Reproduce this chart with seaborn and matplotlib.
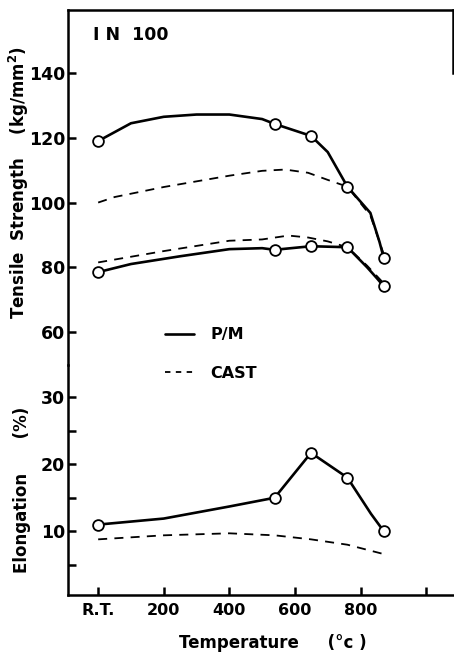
import matplotlib
matplotlib.use("Agg")
import matplotlib.pyplot as plt
import seaborn as sns
from matplotlib.lines import Line2D

# ---------------- data ----------------
test_temps = [0, 538, 649, 760, 871]
pm_upper_pts = [119.0, 124.3, 120.6, 104.9, 82.8]
pm_lower_pts = [78.5, 85.3, 86.5, 86.2, 74.1]
pm_elong_pts = [11.0, 15.0, 21.7, 18.0, 10.0]

# traced P/M curves
pm_upper_t = [0, 100, 200, 300, 400, 500, 538, 649, 700, 760, 830, 858, 871]
pm_upper_v = [119.0, 124.5, 126.5, 127.2, 127.2, 125.8, 124.3, 120.6, 115.6, 104.9, 96.8, 87.8, 82.8]
pm_lower_t = [0, 100, 250, 400, 500, 538, 649, 760, 820, 850, 871]
pm_lower_v = [78.5, 81.0, 83.4, 85.6, 85.9, 85.4, 86.5, 86.2, 80.0, 76.6, 74.1]
pm_elong_t = [0, 200, 400, 538, 649, 760, 800, 832, 871]
pm_elong_v = [11.0, 11.9, 13.7, 15.0, 21.7, 18.0, 15.0, 12.6, 10.0]

# traced CAST curves
cast_upper_t = [0, 50, 200, 400, 500, 570, 640, 700, 760, 830, 871]
cast_upper_v = [100.0, 101.7, 104.8, 108.3, 109.8, 110.2, 109.2, 107.0, 104.9, 96.0, 84.0]
cast_lower_t = [0, 200, 400, 500, 580, 640, 700, 760, 820, 871]
cast_lower_v = [81.5, 85.0, 88.2, 88.6, 89.8, 89.2, 88.0, 86.2, 80.5, 75.0]
cast_elong_t = [0, 200, 400, 538, 649, 760, 871]
cast_elong_v = [8.8, 9.4, 9.7, 9.4, 8.8, 8.0, 6.6]

x_ticks = [0, 200, 400, 600, 800, 1000]
x_tick_labels = ["R.T.", "200", "400", "600", "800", ""]
top_ticks = [60, 80, 100, 120, 140]
bot_ticks = [5, 10, 15, 20, 25, 30]
bot_tick_labels = ["", "10", "", "20", "", "30"]

# ---------------- style ----------------
sns.set_style("ticks")
plt.rcParams["font.family"] = ["DejaVu Sans"]
plt.rcParams["font.weight"] = "bold"
for key in ("text.color", "axes.labelcolor", "xtick.color", "ytick.color", "axes.edgecolor"):
    plt.rcParams[key] = "black"
FS = 12.5

W, H = 454, 653
fig = plt.figure(figsize=(W / 100, H / 100), dpi=100)

left_px, right_px = 68, 453
top_px, mid_px, bot_px = 10, 365, 595
def fx(px):
    return px / W
def fy(py):
    return 1 - py / H

ax_t = fig.add_axes([fx(left_px), fy(mid_px), fx(right_px) - fx(left_px), fy(top_px) - fy(mid_px)])
ax_b = fig.add_axes([fx(left_px), fy(bot_px), fx(right_px) - fx(left_px), fy(mid_px) - fy(bot_px)], sharex=ax_t)
for ax in (ax_t, ax_b):
    ax.patch.set_visible(False)

solid_kw = dict(color="black", linewidth=1.9, estimator=None, sort=False)
dash_kw = dict(color="black", linewidth=1.3, estimator=None, sort=False, linestyle=(0, (5, 4)))
mk_kw = dict(marker="o", s=60, facecolor="white", edgecolor="black", linewidth=1.3, zorder=5, legend=False)

# top panel: tensile strength
sns.lineplot(x=pm_upper_t, y=pm_upper_v, ax=ax_t, **solid_kw)
sns.lineplot(x=pm_lower_t, y=pm_lower_v, ax=ax_t, **solid_kw)
sns.lineplot(x=cast_upper_t, y=cast_upper_v, ax=ax_t, **dash_kw)
sns.lineplot(x=cast_lower_t, y=cast_lower_v, ax=ax_t, **dash_kw)
sns.scatterplot(x=test_temps, y=pm_upper_pts, ax=ax_t, **mk_kw)
sns.scatterplot(x=test_temps, y=pm_lower_pts, ax=ax_t, **mk_kw)

# bottom panel: elongation
sns.lineplot(x=pm_elong_t, y=pm_elong_v, ax=ax_b, **solid_kw)
sns.lineplot(x=cast_elong_t, y=cast_elong_v, ax=ax_b, **dash_kw)
sns.scatterplot(x=test_temps, y=pm_elong_pts, ax=ax_b, **mk_kw)

xmin, xmax = -92, 1082
ax_t.set_xlim(xmin, xmax)
ax_t.set_ylim(49.8, 159.5)
ax_b.set_ylim(0.5, 34.8)

# spines
for ax in (ax_t, ax_b):
    for s in ax.spines.values():
        s.set_linewidth(1.8)
        s.set_color("black")
ax_t.spines["bottom"].set_visible(False)
ax_t.spines["right"].set_bounds(140, 159.5)
ax_b.spines["top"].set_visible(False)
ax_b.spines["right"].set_visible(False)

# ticks
ax_t.set_yticks(top_ticks)
ax_t.set_yticklabels([str(t) for t in top_ticks], fontsize=FS, fontweight="bold")
ax_t.tick_params(axis="y", direction="in", length=6, width=1.8, pad=2, right=False)
ax_t.tick_params(axis="x", bottom=False, labelbottom=False)

ax_b.set_yticks(bot_ticks)
ax_b.set_yticklabels(bot_tick_labels, fontsize=FS, fontweight="bold")
ax_b.tick_params(axis="y", direction="in", length=6, width=1.8, pad=2, right=False)
ax_b.set_xticks(x_ticks)
ax_b.set_xticklabels(x_tick_labels, fontsize=FS - 1, fontweight="bold")
ax_b.tick_params(axis="x", direction="in", length=6, width=1.8, pad=6, top=False)

# labels
span = right_px - left_px
LFS = 12
ax_t.set_ylabel("Tensile  Strength    (kg/mm$^\\mathbf{2}$)", fontsize=LFS, fontweight="bold")
ax_t.yaxis.set_label_coords((31 - left_px) / span, (mid_px - 183) / (mid_px - top_px))
ax_b.set_ylabel("Elongation      (%)", fontsize=LFS, fontweight="bold")
ax_b.yaxis.set_label_coords((31 - left_px) / span, (bot_px - 490) / (bot_px - mid_px))
ax_b.set_xlabel("Temperature     (°c )", fontsize=LFS, fontweight="bold")
ax_b.xaxis.set_label_coords((273 - left_px) / span, (bot_px - 634) / (bot_px - mid_px))

ax_t.text((93 - left_px) / span, (mid_px - 35) / (mid_px - top_px), "I N  100",
          transform=ax_t.transAxes, fontsize=FS, fontweight="bold", ha="left", va="center")

# legend
handles = [Line2D([], [], color="black", lw=1.9),
           Line2D([], [], color="black", lw=1.3, linestyle=(0, (3, 3)))]
leg = fig.legend(handles, ["P/M", "CAST"], loc="upper left",
                 bbox_to_anchor=(fx(151), fy(313)), bbox_transform=fig.transFigure,
                 frameon=False, handlelength=1.8, handletextpad=1.0, labelspacing=1.45,
                 prop=dict(size=FS - 1, weight="bold"))

fig.savefig("out.png", dpi=100)
